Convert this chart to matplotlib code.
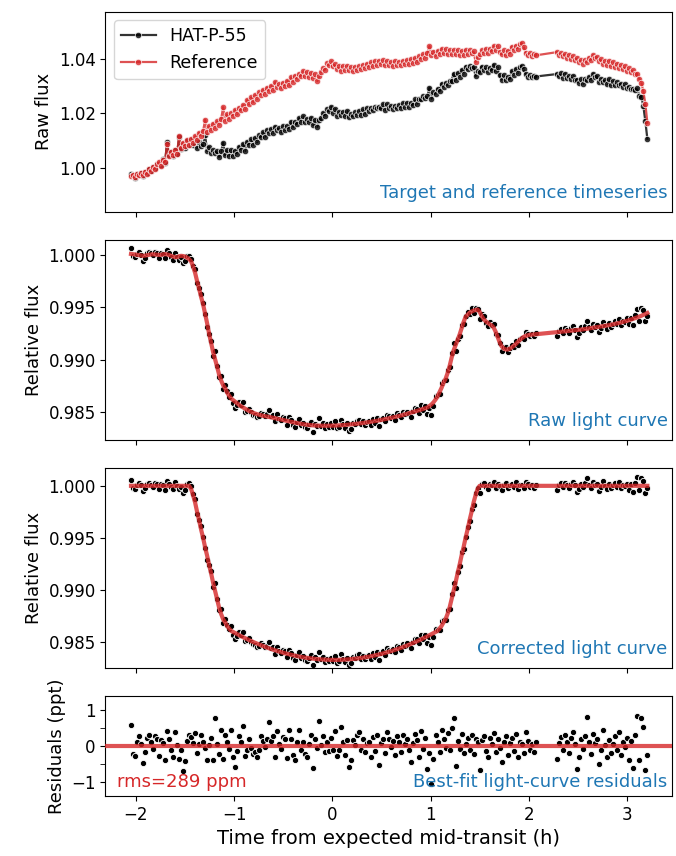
import numpy as np
import matplotlib
matplotlib.use("Agg")
import matplotlib.pyplot as plt
from matplotlib.ticker import MultipleLocator

# time from expected mid-transit (h), 73 s cadence, two chunks either side of the gap
t_start1, t_start2, cadence = -2.05, 2.29, 0.0204
n1, n2 = 203, 46

# transit model depth (ppm)
depth_ppm = [
    0, 0, 0, 0, 0, 0, 0, 0, 0, 0, 0, 0, 0, 0, 0, 0, 0, 0, 0, 0,
    0, 0, 0, 0, 0, 0, 0, 0, 0,
    0, 300, 900, 1600, 2500, 3300, 4200, 5000, 5900, 6700, 7600, 8400,
    9300, 10100, 10900, 11700, 12300, 12800, 13100, 13450, 13700,
    13916, 14023, 14128, 14231, 14332, 14431, 14527, 14622, 14714, 14805,
    14893, 14979, 15063, 15145, 15225, 15302, 15378, 15451, 15523, 15592,
    15659, 15724, 15787, 15848, 15907, 15964, 16018, 16071, 16121, 16169,
    16216, 16260, 16302, 16341, 16379, 16415, 16448, 16480, 16509, 16537,
    16562, 16585, 16606, 16625, 16641, 16656, 16669, 16679, 16687, 16694,
    16698, 16700, 16700, 16698, 16694, 16687, 16679, 16669, 16656, 16641,
    16625, 16606, 16585, 16562, 16537, 16509, 16480, 16448, 16415, 16379,
    16341, 16302, 16260, 16216, 16169, 16121, 16071, 16018, 15964, 15907,
    15848, 15787, 15724, 15659, 15592, 15523, 15451, 15378, 15302, 15225,
    15145, 15063, 14979, 14893, 14805, 14714, 14622, 14527, 14431, 14332,
    14231, 14128, 14023, 13916,
    13700, 13450, 13100, 12800, 12300, 11700, 10900, 10100, 9300, 8400,
    7600, 6700, 5900, 5000, 4200, 3300, 2500, 1600, 900, 300, 0,
    0, 0, 0, 0, 0, 0, 0, 0, 0, 0, 0, 0, 0, 0, 0, 0, 0, 0, 0, 0,
    0, 0, 0, 0, 0, 0, 0, 0,
    # after the gap
    0, 0, 0, 0, 0, 0, 0, 0, 0, 0, 0, 0, 0, 0, 0, 0, 0, 0, 0, 0, 0, 0, 0,
    0, 0, 0, 0, 0, 0, 0, 0, 0, 0, 0, 0, 0, 0, 0, 0, 0, 0, 0, 0, 0, 0, 0,
]

# systematics in the raw light curve (ppm)
sys_ppm = [
    100, 80, 50, 20, 0, -50, -80, -60, -20, 20,
    50, 60, 50, 30, 0, 20, 60, 80, 50, 0,
    -80, -150, -200, -200, -120, -80, -100, -150, -250, -400,
    -300, -200, -100, 0, 100, 200, 300, 300, 200, 100,
    0, 50, 150, 250, 300, 350, 400, 400, 350, 300,
    250, 200, 150, 100, 50, 20, 0, -20, -40, -50,
    -50, -50, -40, -20, 0, 30, 60, 100, 140, 170,
    200, 220, 240, 260, 280, 290, 300, 310, 310, 320,
    320, 320, 330, 330, 330, 335, 335, 340, 340, 345,
    350, 360, 370, 380, 390, 400, 410, 420, 430, 440,
    440, 450, 460, 470, 480, 480, 490, 490, 500, 500,
    500, 500, 500, 500, 500, 500, 490, 490, 480, 480,
    470, 460, 450, 440, 430, 420, 410, 400, 390, 370,
    350, 330, 310, 290, 270, 250, 230, 210, 190, 170,
    150, 120, 90, 60, 30, 0, -30, -60, -80, -50,
    0, 100, 250, 450, 650, 800, 950, 1000, 1050, 1100,
    1100, 1000, 700, 300, 0, -300, -500, -900, -1500, -2200,
    -2900, -3700, -4350, -4900, -5400, -5800, -6100, -6300, -6450, -6600,
    -6700, -6900, -7300, -7800, -8300, -8700, -8900, -9000, -9000, -8950,
    -8800, -8650, -8500, -8300, -8100, -7950, -7800, -7700, -7650, -7600,
    -7580, -7560, -7550,
    # after the gap
    -7350, -7330, -7310, -7290, -7270, -7250, -7230, -7210, -7190, -7170,
    -7150, -7130, -7100, -7080, -7050, -7030, -7000, -6970, -6940, -6900,
    -6870, -6840, -6810, -6780, -6750, -6710, -6680, -6640, -6600, -6560,
    -6520, -6470, -6420, -6370, -6320, -6260, -6200, -6140, -6080, -6010,
    -5940, -5870, -5790, -5710, -5620, -5520,
]

# best-fit residuals (ppt)
resid_ppt = [
    0.58, -0.22, -0.28, 0.10, 0.26, 0.05, -0.48, -0.18, 0.22, 0.30,
    0.12, -0.09, 0.28, 0.18, -0.29, 0.15, 0.07, -0.38, 0.42, 0.20,
    -0.12, -0.30, 0.37, 0.02, -0.35, -0.12, -0.68, -0.42, 0.14, 0.30,
    0.24, 0.08, 0.35, -0.20, 0.04, 0.30, 0.12, -0.05, -0.40, 0.02,
    0.22, -0.38, 0.76, 0.06, -0.22, 0.44, -0.36, 0.30, 0.12, -0.08,
    0.44, -0.30, -0.59, -0.15, 0.28, 0.10, 0.55, -0.28, -0.12, 0.20,
    -0.05, -0.22, -0.18, -0.30, -0.12, 0.26, 0.14, -0.03, 0.20, 0.65,
    0.14, 0.28, -0.30, 0.40, 0.05, -0.08, 0.25, 0.20, -0.33, 0.44,
    0.18, -0.25, -0.40, 0.12, 0.44, -0.12, 0.10, -0.22, -0.30, 0.06,
    0.30, -0.60, 0.18, -0.05, 0.70, 0.02, 0.28, -0.18, 0.12, -0.15,
    0.22, -0.10, 0.40, -0.28, -0.12, 0.51, 0.10, -0.25, 0.16, -0.59,
    -0.40, 0.15, 0.02, 0.30, 0.37, -0.10, 0.20, -0.18, 0.08, 0.12,
    -0.30, 0.25, -0.15, 0.30, -0.52, 0.08, 0.18, -0.20, 0.37, 0.20,
    -0.02, 0.14, -0.25, 0.28, 0.10, -0.18, 0.30, 0.05, 0.20, -0.12,
    -0.43, 0.08, 0.32, 0.15, -0.30, 0.40, -0.08, 0.22, -0.63, -0.20,
    -1.05, -0.35, 0.30, 0.12, -0.16, 0.45, 0.20, -0.06, 0.35, -0.10,
    0.48, 0.76, -0.55, 0.14, -0.08, 0.34, -0.20, 0.05, 0.22, -0.12,
    0.30, -0.22, 0.20, 0.10, -0.66, 0.16, 0.28, -0.14, -0.30, 0.22,
    0.06, 0.36, -0.18, 0.20, -0.06, -0.43, 0.12, 0.28, -0.25, 0.08,
    0.22, -0.15, 0.32, -0.30, 0.10, 0.04, -0.20, 0.39, 0.14, -0.12,
    0.05, -0.18, 0.10,
    # after the gap
    -0.36, 0.08, 0.25, -0.12, 0.30, 0.12, -0.20, 0.22, 0.38, 0.05,
    -0.64, -0.30, 0.20, -0.08, 0.28, 0.79, 0.12, -0.22, 0.34, 0.08,
    0.18, -0.50, -0.12, 0.44, 0.02, -0.30, 0.16, -0.20, 0.06, 0.26,
    -0.10, 0.37, -0.25, 0.10, -0.04, 0.22, -0.38, 0.14, -0.61, 0.30,
    0.83, -0.40, 0.76, 0.51, -0.66, -0.25,
]

# reference star raw flux, offset from 1 in units of 1e-4
ref_e4 = [
    -31, -26, -35, -24, -28, -20, -26, -14, -22, -6,
    -12, 4, -6, 12, 20, 8, 30, 22, 88, 44,
    58, 46, 64, 52, 116, 72, 92, 78, 100, 84,
    104, 92, 116, 100, 128, 116, 134, 176, 132, 152,
    138, 162, 146, 170, 158, 178, 222, 172, 196, 180,
    200, 188, 212, 196, 220, 210, 230, 214, 248, 232,
    258, 240, 266, 252, 276, 268, 286, 272, 294, 280,
    300, 284, 314, 296, 308, 292, 312, 298, 318, 302,
    332, 316, 338, 324, 344, 336, 354, 338, 350, 334,
    348, 330, 342, 318, 336, 352, 366, 360, 384, 378,
    390, 372, 380, 362, 374, 356, 372, 360, 374, 358,
    368, 354, 370, 358, 372, 362, 378, 366, 382, 370,
    386, 372, 390, 378, 392, 380, 394, 376, 390, 378,
    388, 374, 390, 376, 388, 378, 392, 380, 394, 382,
    398, 384, 402, 388, 408, 400, 416, 404, 422, 446,
    412, 426, 410, 428, 418, 436, 420, 434, 418, 430,
    416, 432, 418, 430, 414, 428, 414, 432, 418, 430,
    420, 428, 388, 406, 416, 430, 420, 436, 422, 434,
    428, 446, 432, 448, 426, 418, 430, 412, 428, 418,
    444, 432, 448, 436, 452, 456, 444, 420, 412, 420,
    410, 418, 412,
    # after the gap
    424, 412, 420, 408, 418, 402, 414, 398, 408, 394,
    404, 388, 396, 382, 394, 388, 404, 396, 414, 402,
    406, 390, 398, 380, 392, 378, 392, 374, 386, 370,
    382, 366, 376, 362, 372, 356, 364, 350, 358, 344,
    344, 326, 312, 280, 235, 165,
]

t = np.concatenate([t_start1 + cadence * np.arange(n1),
                    t_start2 + cadence * np.arange(n2)])
transit = 1 - np.array(depth_ppm) * 1e-6
raw_model = transit * (1 + np.array(sys_ppm) * 1e-6)
resid = np.array(resid_ppt)
corrected = transit + resid * 1e-3
raw_lc = raw_model + resid * 1e-3
ref = 1 + np.array(ref_e4) * 1e-4
target = ref * raw_lc

plt.rcParams['font.family'] = 'DejaVu Sans'
plt.rcParams['xtick.labelsize'] = 12
plt.rcParams['ytick.labelsize'] = 12

fig, axes = plt.subplots(4, 1, sharex=True, figsize=(6.76, 8.56), dpi=100,
                         gridspec_kw=dict(height_ratios=[2, 2, 2, 1]))
fig.subplots_adjust(left=0.156, right=0.9935, top=0.9863, bottom=0.0701,
                    hspace=0.158)
red = 'tab:red'
blue = 'tab:blue'
note_kw = dict(ha='right', va='bottom', color=blue, fontsize=13)

# raw timeseries of target and reference
ax = axes[0]
ax.plot(t, target, '-o', color='k', alpha=0.8, lw=1.6, ms=4.6,
        mec='white', mew=0.6, label='HAT-P-55')
ax.plot(t, ref, '-o', color=red, alpha=0.8, lw=1.6, ms=4.6,
        mec='white', mew=0.6, label='Reference')
ax.set_ylim(0.98376, 1.0572)
ax.set_yticks([1.00, 1.02, 1.04])
ax.set_ylabel('Raw flux', fontsize=13)
ax.legend(loc='upper left', fontsize=12.5)
ax.text(0.993, 0.05, 'Target and reference timeseries',
        transform=ax.transAxes, **note_kw)

# raw light curve with systematics
ax = axes[1]
ax.scatter(t, raw_lc, s=20, c='k', edgecolors='white', linewidths=0.6, zorder=2)
ax.plot(t, raw_model, color=red, lw=3, alpha=0.8, zorder=3)
ax.set_ylim(0.98237, 1.00145)
ax.set_yticks([0.985, 0.990, 0.995, 1.000])
ax.set_ylabel('Relative flux', fontsize=13)
ax.text(0.993, 0.05, 'Raw light curve', transform=ax.transAxes, **note_kw)

# corrected light curve
ax = axes[2]
ax.scatter(t, corrected, s=20, c='k', edgecolors='white', linewidths=0.6,
           zorder=2)
ax.plot(t, transit, color=red, lw=3, alpha=0.8, zorder=3)
ax.set_ylim(0.98251, 1.00173)
ax.set_yticks([0.985, 0.990, 0.995, 1.000])
ax.set_ylabel('Relative flux', fontsize=13)
ax.text(0.993, 0.05, 'Corrected light curve', transform=ax.transAxes,
        **note_kw)

# residuals
ax = axes[3]
ax.scatter(t, resid, s=20, c='k', edgecolors='white', linewidths=0.6, zorder=2)
ax.axhline(0, color=red, lw=3, alpha=0.8, zorder=3)
ax.set_ylim(-1.38, 1.38)
ax.set_yticks([-1, 0, 1])
ax.yaxis.set_minor_locator(MultipleLocator(0.5))
ax.tick_params(axis='y', which='minor', length=3.5)
ax.set_ylabel('Residuals (ppt)', fontsize=13)
ax.text(0.993, 0.05, 'Best-fit light-curve residuals', transform=ax.transAxes,
        **note_kw)
ax.text(0.02, 0.05, 'rms=289 ppm', transform=ax.transAxes, ha='left',
        va='bottom', color=red, fontsize=13)

ax.set_xlim(-2.31, 3.455)
ax.set_xticks([-2, -1, 0, 1, 2, 3])
ax.set_xlabel('Time from expected mid-transit (h)', fontsize=14)

fig.savefig('out.png', dpi=100)
